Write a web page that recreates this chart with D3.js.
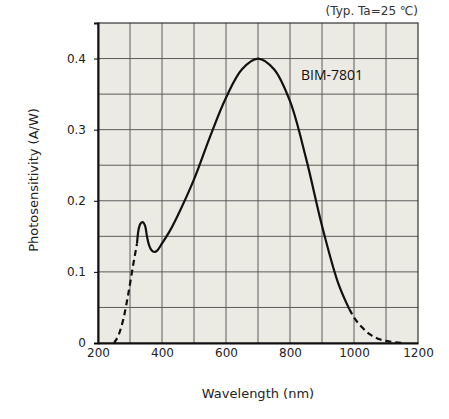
<!DOCTYPE html>
<html><head><meta charset="utf-8">
<script src="https://cdn.jsdelivr.net/npm/d3@7"></script>
<style>body{margin:0;background:#fff}</style>
</head><body><div id="chart"></div>
<script>
const xTicks = [200, 400, 600, 800, 1000, 1200]
const yTicks = [0, 0.1, 0.2, 0.3, 0.4]
// dashed lead-in, solid main response, dashed tail
const lowWl = [250, 265, 280, 295, 310, 322]
const lowVal = [0, 0.012, 0.035, 0.07, 0.11, 0.14]
const mainWl = [322, 327, 333, 340, 347, 353, 360, 368, 376, 385, 400, 425, 450, 500, 550, 600, 650, 700, 750, 800, 850, 900, 950, 985]
const mainVal = [0.14, 0.16, 0.168, 0.17, 0.165, 0.15, 0.137, 0.13, 0.128, 0.13, 0.14, 0.158, 0.18, 0.23, 0.29, 0.345, 0.385, 0.40, 0.385, 0.34, 0.26, 0.165, 0.085, 0.048]
const tailWl = [985, 1000, 1025, 1050, 1075, 1100, 1130, 1160]
const tailVal = [0.048, 0.036, 0.022, 0.012, 0.006, 0.003, 0.001, 0]

const w = 449, h = 419
const svg = d3.select('#chart').append('svg').attr('width', w).attr('height', h)
  .style('font-family', 'Verdana, "DejaVu Sans", sans-serif')

const x = d3.scaleLinear().domain([200, 1200]).range([98, 418])
const y = d3.scaleLinear().domain([0, 0.45]).range([343, 23])

svg.append('rect').attr('x', 98).attr('y', 23).attr('width', 320).attr('height', 320).attr('fill', '#ecebe3')

const grid = svg.append('g').attr('stroke', '#5a5a5a').attr('stroke-width', 1)
d3.range(300, 1200, 100).forEach(v => grid.append('line').attr('x1', x(v)).attr('x2', x(v)).attr('y1', y(0)).attr('y2', y(0.45)))
d3.range(1, 9).map(i => i * 0.05).forEach(v => grid.append('line').attr('x1', x(200)).attr('x2', x(1200)).attr('y1', y(v)).attr('y2', y(v)))

svg.append('rect').attr('x', 98).attr('y', 23).attr('width', 320).attr('height', 320)
  .attr('fill', 'none').attr('stroke', '#333').attr('stroke-width', 1.2)

const xAxis = svg.append('g').attr('transform', 'translate(0,343)')
  .call(d3.axisBottom(x).tickValues(xTicks).tickSize(0).tickPadding(5).tickFormat(d3.format('d')))
xAxis.select('.domain').attr('stroke', '#111').attr('stroke-width', 2)
xAxis.selectAll('text').attr('font-size', 12).attr('fill', '#222').style('font-family', 'Verdana, "DejaVu Sans", sans-serif')

const yAxis = svg.append('g').attr('transform', 'translate(98,0)')
  .call(d3.axisLeft(y).tickValues(yTicks).tickSize(4).tickPadding(8).tickFormat(d => d === 0 ? '0' : d3.format('.1f')(d)))
yAxis.select('.domain').attr('stroke', '#111').attr('stroke-width', 2)
yAxis.selectAll('text').attr('font-size', 12).attr('fill', '#222').style('font-family', 'Verdana, "DejaVu Sans", sans-serif')

const line = d3.line().x(d => x(d[0])).y(d => y(d[1])).curve(d3.curveMonotoneX)
const zip = (a, b) => a.map((v, i) => [v, b[i]])

svg.append('path').datum(zip(lowWl, lowVal)).attr('d', line).attr('fill', 'none')
  .attr('stroke', '#111').attr('stroke-width', 2.2).attr('stroke-dasharray', '6,4')
svg.append('path').datum(zip(mainWl, mainVal)).attr('d', d3.line().x(d => x(d[0])).y(d => y(d[1])).curve(d3.curveCatmullRom))
  .attr('fill', 'none').attr('stroke', '#111').attr('stroke-width', 2.2)
svg.append('path').datum(zip(tailWl, tailVal)).attr('d', line).attr('fill', 'none')
  .attr('stroke', '#111').attr('stroke-width', 2.2).attr('stroke-dasharray', '6,4')

svg.append('text').attr('x', 301).attr('y', 80).attr('font-size', 14)
  .style('font-family', '"Open Sans", sans-serif').attr('fill', '#111').text('BIM-7801')
svg.append('text').attr('x', 418).attr('y', 15).attr('text-anchor', 'end').attr('font-size', 12).attr('fill', '#333').text('(Typ. Ta=25 ℃)')
svg.append('text').attr('x', 258).attr('y', 398).attr('text-anchor', 'middle').attr('font-size', 13).attr('fill', '#222').text('Wavelength (nm)')
svg.append('text').attr('transform', 'translate(38,180) rotate(-90)').attr('text-anchor', 'middle')
  .attr('font-size', 13).attr('fill', '#222').text('Photosensitivity (A/W)')
</script></body></html>
